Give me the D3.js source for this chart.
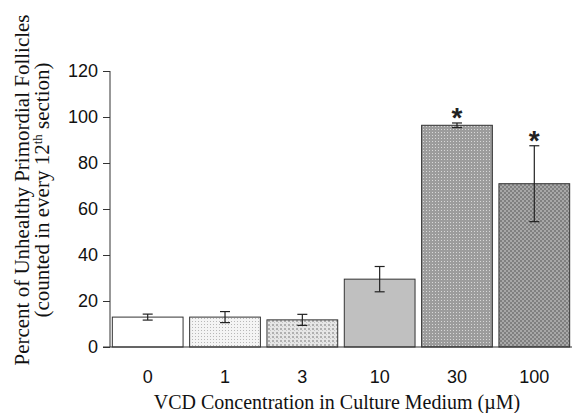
<!DOCTYPE html>
<html><head><meta charset="utf-8">
<script src="https://cdn.jsdelivr.net/npm/d3@7"></script>
<style>body{margin:0;background:#fff}svg{display:block}</style>
</head><body>
<script>
const categories = ["0","1","3","10","30","100"];
const values = [13, 13, 11.8, 29.5, 96.4, 71];
const errors = [1.3, 2.4, 2.4, 5.5, 1.0, 16.5];
const significant = [false, false, false, false, true, true];
const yTicks = [0,20,40,60,80,100,120];

const W = 572, H = 413;
const m = {left:110, right:0, top:71, bottom:66};
const svg = d3.select("body").append("svg").attr("width",W).attr("height",H);
const defs = svg.append("defs");

function pat(id, size, bg, dots){
  const p = defs.append("pattern").attr("id",id).attr("patternUnits","userSpaceOnUse")
    .attr("width",size).attr("height",size);
  p.append("rect").attr("width",size).attr("height",size).attr("fill",bg);
  dots.forEach(d=>p.append("rect").attr("x",d[0]).attr("y",d[1]).attr("width",d[2]).attr("height",d[3]).attr("fill",d[4]));
}
pat("p1",3,"#f4f4f4",[[0,0,1,1,"#b8b8b8"]]);
pat("p3",4,"#e6e6e6",[[0,0,2,2,"#b0b0b0"],[2,2,1,1,"#c4c4c4"]]);
pat("p30",3,"#9c9c9c",[[0,0,1,1,"#d8d8d8"]]);
pat("p100",4,"#a8a8a8",[[0,0,2,2,"#808080"],[2,2,2,2,"#808080"]]);
const fills = ["#ffffff","url(#p1)","url(#p3)","#c0c0c0","url(#p30)","url(#p100)"];

const x = d3.scaleBand().domain(categories).range([m.left, W-m.right]).paddingInner(0.085).paddingOuter(0.03);
const y = d3.scaleLinear().domain([0,120]).range([H-m.bottom, m.top]);

// bars
svg.selectAll("rect.bar").data(values).join("rect").attr("class","bar")
  .attr("x",(d,i)=>x(categories[i])).attr("width",x.bandwidth())
  .attr("y",d=>y(d)).attr("height",d=>y(0)-y(d))
  .attr("fill",(d,i)=>fills[i]).attr("stroke","#333").attr("stroke-width",1);

// error bars
const eg = svg.append("g").attr("stroke","#222").attr("stroke-width",1.2);
values.forEach((v,i)=>{
  const cx = x(categories[i]) + x.bandwidth()/2;
  const e = errors[i];
  eg.append("line").attr("x1",cx).attr("x2",cx).attr("y1",y(v+e)).attr("y2",y(v-e));
  eg.append("line").attr("x1",cx-5).attr("x2",cx+5).attr("y1",y(v+e)).attr("y2",y(v+e));
  eg.append("line").attr("x1",cx-5).attr("x2",cx+5).attr("y1",y(v-e)).attr("y2",y(v-e));
  if(significant[i]){
    svg.append("text").attr("x",cx).attr("y",y(v+e)+4).attr("text-anchor","middle")
      .attr("font-family","Liberation Sans, Arial, sans-serif").attr("font-size",28)
      .attr("font-weight","bold").attr("fill","#222").text("*");
  }
});

// y axis
const ya = svg.append("g").attr("transform",`translate(${m.left},0)`)
  .call(d3.axisLeft(y).tickValues(yTicks).tickSize(7).tickPadding(5));
ya.selectAll("text").attr("font-family","Liberation Sans, Arial, sans-serif").attr("font-size",18).attr("fill","#111");
ya.selectAll("line,path").attr("stroke","#333");
ya.select("path").attr("d",`M0,${y(120)}V${y(0)}`);

// x axis baseline
svg.append("line").attr("x1",m.left-7).attr("x2",W).attr("y1",y(0)).attr("y2",y(0)).attr("stroke","#333");
const xa = svg.append("g").attr("transform",`translate(0,${y(0)})`)
  .call(d3.axisBottom(x).tickSize(0));
xa.select("path").remove();
xa.selectAll("text").attr("font-family","Liberation Sans, Arial, sans-serif").attr("font-size",18)
  .attr("fill","#111").attr("dy",null).attr("y",36);

// titles
svg.append("text").attr("x",337).attr("y",409).attr("text-anchor","middle")
  .attr("font-family","Liberation Serif, Times New Roman, serif").attr("font-size",20).attr("fill","#111")
  .text("VCD Concentration in Culture Medium (\u00b5M)");
const yt = svg.append("text").attr("transform","translate(29,190) rotate(-90)").attr("text-anchor","middle")
  .attr("font-family","Liberation Serif, Times New Roman, serif").attr("font-size",21).attr("fill","#111");
yt.append("tspan").attr("x",0).attr("dy",0).text("Percent of Unhealthy Primordial Follicles");
const l2 = yt.append("tspan").attr("x",0).attr("dy",20);
l2.append("tspan").text("(counted in every 12");
l2.append("tspan").attr("dy",-7).attr("font-size",13).text("th");
l2.append("tspan").attr("dy",7).text(" section)");
</script>
</body></html>
